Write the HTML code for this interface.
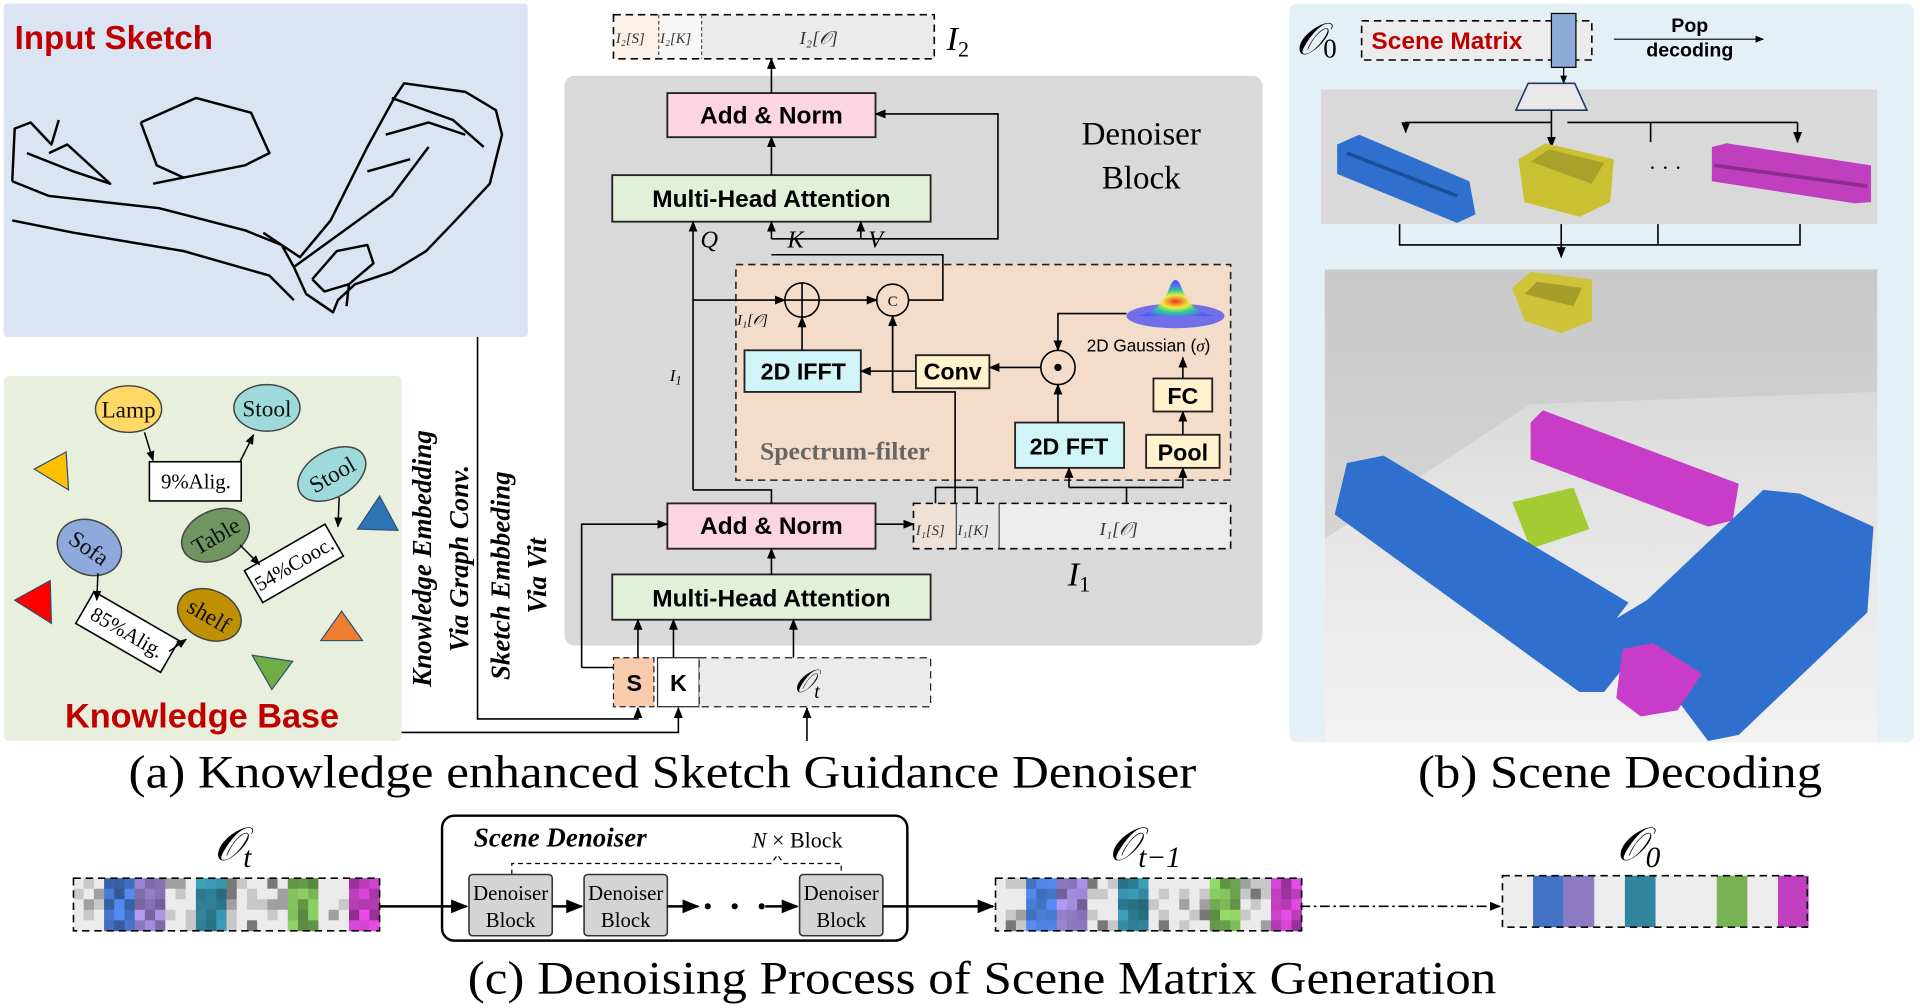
<!DOCTYPE html>
<html><head><meta charset="utf-8"><style>
html,body{margin:0;padding:0;background:#fff;}
svg{display:block}
.ser{font-family:"Liberation Serif",serif}
.san{font-family:"Liberation Sans",sans-serif}
</style></head><body>
<svg id="s" width="1920" height="1008" viewBox="0 0 1568 823" preserveAspectRatio="none" xmlns="http://www.w3.org/2000/svg">
<defs>
<marker id="a" viewBox="0 0 10 10" refX="9" refY="5" markerWidth="7" markerHeight="7" orient="auto-start-reverse"><path d="M0,1 L10,5 L0,9 z" fill="#000"/></marker>
<linearGradient id="floor" x1="0" y1="0" x2="0" y2="1"><stop offset="0" stop-color="#cdcdcd"/><stop offset="0.5" stop-color="#e4e4e4"/><stop offset="1" stop-color="#f2f2f2"/></linearGradient>
<radialGradient id="gau" cx="0.5" cy="0.6" r="0.5"><stop offset="0" stop-color="#e33"/><stop offset="0.35" stop-color="#ee3"/><stop offset="0.6" stop-color="#3c9"/><stop offset="1" stop-color="#55f"/></radialGradient>
</defs>
<rect x="3" y="3" width="428" height="272" fill="#dae4f2" rx="3"/>
<rect x="3" y="307" width="325" height="298" fill="#e8efdd" rx="4"/>
<rect x="461" y="62" width="570" height="465" fill="#d9d9d9" rx="8"/>
<rect x="1053" y="3" width="510" height="603" fill="#e3f0f6" rx="6"/>
<text x="12" y="40" class="san" font-weight="bold" font-size="27" fill="#c00000">Input Sketch</text>
<g fill="none" stroke="#000" stroke-width="2" stroke-linejoin="round">
<path d="M10,148 L12,105 L25,100 L42,118 L48,98 M10,148 L40,160 L130,170 L200,188 L230,200 L240,218 L250,240 L272,255 L276,245 L290,232 L320,222 L348,205 L372,180 L400,150 L410,110 L405,90 L380,75 L330,68 L322,80 L300,120 L270,180 L245,210 L215,190 M10,180 L60,190 L150,205 L220,225 L240,245 M22,125 L60,140 L90,150 L55,118 L40,125 M115,100 L160,80 L205,92 L220,125 L200,135 L150,145 L128,135 L115,100 M150,145 L125,150 M320,80 L370,98 L395,120 M315,110 L350,100 L380,110 M300,140 L335,130 M255,228 L275,205 L300,200 L305,215 L285,232 L265,238 L255,228 M285,232 L283,250 M240,218 L320,160 L350,120"/>
</g>
<g stroke="#444" stroke-width="1.2">
<ellipse cx="105" cy="334" rx="27" ry="19" fill="#ffd966"/>
<ellipse cx="218" cy="333" rx="27" ry="19" fill="#9fdada"/>
<ellipse cx="271" cy="387" rx="30" ry="19" fill="#9fdada" transform="rotate(-30 271 387)"/>
<ellipse cx="73" cy="447" rx="27" ry="22" fill="#8ea9db" transform="rotate(25 73 447)"/>
<ellipse cx="176" cy="437" rx="29" ry="20" fill="#6f9560" transform="rotate(-25 176 437)"/>
<ellipse cx="171" cy="502" rx="27" ry="20" fill="#bf9000" transform="rotate(25 171 502)"/>
</g>
<g class="ser" font-size="19" fill="#111" text-anchor="middle">
<text x="105" y="341">Lamp</text><text x="218" y="340">Stool</text>
<text x="271" y="394" transform="rotate(-30 271 387)">Stool</text>
<text x="73" y="454" transform="rotate(35 73 447)">Sofa</text>
<text x="176" y="444" transform="rotate(-30 176 437)">Table</text>
<text x="171" y="509" transform="rotate(30 171 502)">shelf</text>
</g>
<g stroke="#000" stroke-width="1.3" fill="#fff">
<rect x="122" y="377" width="75" height="32"/>
<rect x="-38" y="-15" width="76" height="30" transform="translate(240 460) rotate(-30)"/>
<rect x="-40" y="-15" width="80" height="30" transform="translate(104 516) rotate(30)"/>
</g>
<g class="ser" font-size="17" fill="#000" text-anchor="middle">
<text x="160" y="399">9%Alig.</text>
<text x="240" y="466" transform="rotate(-30 240 460)">54%Cooc.</text>
<text x="104" y="522" transform="rotate(30 104 516)">85%Alig.</text>
</g>
<g stroke="#000" stroke-width="1.2" fill="none" marker-end="url(#a)">
<path d="M118,353 L125,376"/><path d="M196,377 L207,355"/><path d="M277,406 L276,430"/><path d="M196,445 L212,461"/><path d="M80,468 L79,490"/><path d="M138,532 L152,522"/>
</g>
<polygon points="28,383 54,369 56,400" fill="#ffc000" stroke="#2f4f6f"/>
<polygon points="292,432 310,405 325,433" fill="#2e75b6" stroke="#2f4f6f"/>
<polygon points="12,490 41,474 42,509" fill="#f00" stroke="#2f4f6f"/>
<polygon points="262,523 279,499 296,523" fill="#ed7d31" stroke="#2f4f6f"/>
<polygon points="206,535 239,540 222,563" fill="#70ad47" stroke="#2f4f6f"/>
<text x="165" y="594" class="san" font-weight="bold" font-size="28" fill="#c00000" text-anchor="middle">Knowledge Base</text>
<g class="ser" font-weight="bold" font-style="italic" font-size="22" fill="#000" text-anchor="middle">
<text transform="translate(352 456) rotate(-90)">Knowledge Embedding</text>
<text transform="translate(382 456) rotate(-90)">Via Graph Conv.</text>
<text transform="translate(416 470) rotate(-90)">Sketch Embbeding</text>
<text transform="translate(446 470) rotate(-90)">Via Vit</text>
</g>
<g stroke="#000" stroke-width="1.3" fill="none">
<path d="M390,275 L390,587 L521,587 L521,578" marker-end="url(#a)"/>
<path d="M328,598 L554,598 L554,578" marker-end="url(#a)"/>
<path d="M659,605 L659,578" marker-end="url(#a)"/>
</g>
<rect x="501" y="12" width="37" height="36" fill="#fdf0e6"/>
<rect x="538" y="12" width="35" height="36" fill="#f6f6f6"/>
<rect x="573" y="12" width="190" height="36" fill="#ebebeb"/>
<rect x="501" y="12" width="262" height="36" fill="none" stroke="#000" stroke-width="1.3" stroke-dasharray="6,4"/>
<path d="M538,12 V48 M573,12 V48" stroke="#555" stroke-dasharray="3,2"/>
<g class="ser" font-style="italic" font-size="12" fill="#333"><text x="503" y="35">I₂[S]</text><text x="539" y="35">I₂[K]</text><text x="653" y="36" font-size="15">I₂[𝒪]</text></g>
<text x="773" y="41" class="ser" font-style="italic" font-size="28">I<tspan font-size="18" dy="5" font-style="normal">2</tspan></text>
<text x="932" y="118" class="ser" font-size="27" text-anchor="middle">Denoiser</text>
<text x="932" y="154" class="ser" font-size="27" text-anchor="middle">Block</text>
<g stroke="#222" stroke-width="1.5">
<rect x="545" y="76" width="170" height="36" fill="#fbd5e1"/>
<rect x="500" y="143" width="260" height="38" fill="#e2efd9"/>
<rect x="545" y="411" width="170" height="37" fill="#fbd5e1"/>
<rect x="500" y="469" width="260" height="37" fill="#e2efd9"/>
</g>
<g class="san" font-weight="bold" font-size="20" text-anchor="middle">
<text x="630" y="101">Add &amp; Norm</text><text x="630" y="169">Multi-Head Attention</text>
<text x="630" y="436">Add &amp; Norm</text><text x="630" y="495">Multi-Head Attention</text>
</g>
<g class="ser" font-style="italic" font-size="20"><text x="572" y="202">Q</text><text x="643" y="202">K</text><text x="709" y="202">V</text><text x="547" y="311" font-size="14">I<tspan font-size="10" dy="3">1</tspan></text></g>
<rect x="601" y="216" width="404" height="176" fill="#f4dccb" stroke="#222" stroke-width="1.3" stroke-dasharray="6,4"/>
<g stroke="#222" stroke-width="1.5">
<rect x="608" y="286" width="95" height="34" fill="#d0f4f8"/>
<rect x="748" y="290" width="60" height="27" fill="#fff2cc"/>
<rect x="942" y="309" width="48" height="27" fill="#fff2cc"/>
<rect x="936" y="355" width="60" height="27" fill="#fff2cc"/>
<rect x="829" y="345" width="89" height="37" fill="#d0f4f8"/>
</g>
<g class="san" font-weight="bold" font-size="19" text-anchor="middle">
<text x="656" y="310">2D IFFT</text><text x="778" y="310">Conv</text><text x="966" y="330">FC</text><text x="966" y="376">Pool</text><text x="873" y="371">2D FFT</text>
</g>
<text x="690" y="375" class="ser" font-weight="bold" font-size="21" fill="#666" text-anchor="middle">Spectrum-filter</text>
<text x="938" y="287" class="san" font-size="14" text-anchor="middle">2D Gaussian (<tspan class="ser" font-style="italic">σ</tspan>)</text>
<ellipse cx="960" cy="258" rx="40" ry="10" fill="#5b5bef" opacity="0.85"/>
<path d="M928,258 Q948,255 955,235 Q960,222 965,235 Q972,255 992,258 Z" fill="url(#gau)"/>
<g fill="none" stroke="#000" stroke-width="1.3">
<circle cx="655" cy="245" r="14" fill="#f4dccb"/><path d="M641,245 H669 M655,231 V259"/>
<circle cx="729" cy="245" r="13" fill="#f4dccb"/>
<circle cx="864" cy="300" r="14" fill="#f4dccb"/>
</g>
<text x="729" y="250" class="ser" font-size="12" text-anchor="middle">C</text>
<circle cx="864" cy="300" r="3" fill="#000"/>
<g stroke="#000" stroke-width="1.3" fill="none">
<path d="M630,143 V112" marker-end="url(#a)"/>
<path d="M630,76 V48" marker-end="url(#a)"/>
<path d="M630,469 V448" marker-end="url(#a)"/>
<path d="M630,195 H815 V93 H715" marker-end="url(#a)"/>
<path d="M630,195 V181" marker-end="url(#a)"/>
<path d="M703,195 V181" marker-end="url(#a)"/>
<path d="M566,400 V181" marker-end="url(#a)"/>
<path d="M566,400 H630 V411"/>
<path d="M566,245 H641" marker-end="url(#a)"/>
<path d="M669,245 H716" marker-end="url(#a)"/>
<path d="M742,245 H770 V208 H630"/>
<path d="M655,286 V259" marker-end="url(#a)"/>
<path d="M748,303 H703" marker-end="url(#a)"/>
<path d="M850,300 H808" marker-end="url(#a)"/>
<path d="M864,345 V314" marker-end="url(#a)"/>
<path d="M920,256 H864 V286" marker-end="url(#a)"/>
<path d="M966,309 V292" marker-end="url(#a)"/>
<path d="M966,355 V336" marker-end="url(#a)"/>
<path d="M873,398 V382" marker-end="url(#a)"/>
<path d="M873,398 H966 V382" marker-end="url(#a)"/>
<path d="M920,411 V398"/>
<path d="M780,411 V398 H764 V411 M780,398 H798 V411 M780,398 V320 H729 V258" />
<path d="M729,320 V258" marker-end="url(#a)"/>
<path d="M475,545 V428 H545" marker-end="url(#a)"/>
<path d="M475,545 H501"/>
<path d="M521,537 V506" marker-end="url(#a)"/>
<path d="M550,537 V506" marker-end="url(#a)"/>
<path d="M648,537 V506" marker-end="url(#a)"/>
<path d="M715,428 H746" marker-end="url(#a)"/>
</g>
<rect x="746" y="411" width="35" height="37" fill="#f1e2d7"/>
<rect x="781" y="411" width="35" height="37" fill="#e6e6e6"/>
<rect x="816" y="411" width="189" height="37" fill="#ececec"/>
<rect x="746" y="411" width="259" height="37" fill="none" stroke="#000" stroke-width="1.3" stroke-dasharray="6,4"/>
<path d="M781,411 V448 M816,411 V448" stroke="#444"/>
<g class="ser" font-style="italic" font-size="12" fill="#333"><text x="748" y="437">I₁[S]</text><text x="782" y="437">I₁[K]</text><text x="898" y="437" font-size="15">I₁[𝒪]</text></g>
<text x="602" y="265" class="ser" font-style="italic" font-size="12">I₁[𝒪]</text>
<text x="872" y="478" class="ser" font-style="italic" font-size="28">I<tspan font-size="18" dy="5" font-style="normal">1</tspan></text>
<rect x="501" y="537" width="33" height="40" fill="#f9cbad" stroke="#222" stroke-dasharray="5,3"/>
<rect x="537" y="537" width="34" height="40" fill="#fff" stroke="#222"/>
<rect x="571" y="537" width="189" height="40" fill="#ebebeb" stroke="#222" stroke-dasharray="6,4"/>
<g class="san" font-weight="bold" font-size="19" text-anchor="middle"><text x="518" y="564">S</text><text x="554" y="564">K</text></g>
<text x="659" y="565" class="ser" font-style="italic" font-size="26" text-anchor="middle">𝒪<tspan font-size="16" dy="5">t</tspan></text>
<text x="1058" y="44" class="ser" font-style="italic" font-size="36">𝒪<tspan font-size="22" dy="3" font-style="normal">0</tspan></text>
<rect x="1112" y="17" width="188" height="32" fill="#ececec" stroke="#000" stroke-width="1.3" stroke-dasharray="6,4"/>
<text x="1120" y="40" class="san" font-weight="bold" font-size="20" fill="#c00000">Scene Matrix</text>
<rect x="1267" y="11" width="20" height="44" fill="#8eaad6" stroke="#000"/>
<text x="1380" y="26" class="san" font-weight="bold" font-size="16" text-anchor="middle">Pop</text>
<text x="1380" y="46" class="san" font-weight="bold" font-size="16" text-anchor="middle">decoding</text>
<path d="M1318,32 H1440" stroke="#000" marker-end="url(#a)"/>
<rect x="1079" y="73" width="454" height="110" fill="#d9d9d9"/>
<path d="M1277,55 V68" stroke="#000" marker-end="url(#a)"/>
<polygon points="1248,68 1286,68 1296,90 1238,90" fill="#e8e8e8" stroke="#1f3864" stroke-width="1.3"/>
<g stroke="#000" stroke-width="1.3" fill="none">
<path d="M1267,90 V100 H1148 V108" marker-end="url(#a)"/>
<path d="M1267,100 V120" marker-end="url(#a)"/>
<path d="M1280,100 H1468" />
<path d="M1348,100 V116 M1468,100 V116" marker-end="url(#a)"/>
<path d="M1143,183 V200 H1470 V183 M1275,183 V200 M1354,183 V200" />
<path d="M1275,200 V210" marker-end="url(#a)"/>
</g>
<path d="M1092,118 L1110,110 L1200,148 L1205,175 L1190,182 L1092,142 Z" fill="#2f6fce"/>
<path d="M1100,125 L1190,160" stroke="#1c4f9a" stroke-width="3"/>
<path d="M1240,130 L1262,117 L1318,130 L1315,165 L1290,177 L1245,165 Z" fill="#c9c032"/>
<path d="M1250,132 L1265,122 L1310,133 L1300,150 Z" fill="#a9a12a"/>
<text x="1360" y="143" font-size="18" text-anchor="middle">· · ·</text>
<path d="M1398,120 L1410,117 L1528,135 L1528,165 L1515,166 L1398,148 Z" fill="#c03fbf"/>
<path d="M1400,135 L1525,152" stroke="#8d2a8d" stroke-width="3"/>
<rect x="1082" y="220" width="451" height="386" fill="url(#floor)"/>
<path d="M1082,220 H1533 V320 L1250,330 L1082,440 Z" fill="#c4c4c4" opacity="0.5"/>
<path d="M1235,235 L1250,222 L1300,228 L1300,262 L1275,272 L1245,262 Z" fill="#cfc33a"/>
<path d="M1245,240 L1255,230 L1292,235 L1285,250 Z" fill="#a79d2a"/>
<path d="M1250,345 L1260,335 L1420,395 L1415,425 L1395,430 L1250,375 Z" fill="#c83dc8"/>
<path d="M1235,410 L1285,398 L1298,432 L1250,448 Z" fill="#a3cc33"/>
<path d="M1090,420 L1100,378 L1130,372 L1330,492 L1320,505 L1345,490 L1440,400 L1470,403 L1530,430 L1525,500 L1420,600 L1395,605 L1350,545 L1330,540 L1310,565 L1290,565 Z" fill="#2f6fce"/>
<path d="M1325,530 L1350,525 L1390,550 L1370,580 L1340,585 L1320,570 Z" fill="#c73cc8"/>
<g class="ser" font-size="38" text-anchor="middle" lengthAdjust="spacingAndGlyphs">
<text x="541" y="643" textLength="872" lengthAdjust="spacingAndGlyphs">(a) Knowledge enhanced Sketch Guidance Denoiser</text>
<text x="1323" y="643" textLength="330" lengthAdjust="spacingAndGlyphs">(b) Scene Decoding</text>
<text x="802" y="811" textLength="840" lengthAdjust="spacingAndGlyphs">(c) Denoising Process of Scene Matrix Generation</text>
</g>
<text x="190" y="702" class="ser" font-style="italic" font-size="38" text-anchor="middle">𝒪<tspan font-size="24" dy="6">t</tspan></text>
<text x="935" y="702" class="ser" font-style="italic" font-size="38" text-anchor="middle">𝒪<tspan font-size="24" dy="6">t−1</tspan></text>
<text x="1338" y="702" class="ser" font-style="italic" font-size="38" text-anchor="middle">𝒪<tspan font-size="24" dy="6">0</tspan></text>
<g id="strips"></g>
<rect x="361" y="666" width="380" height="102" rx="10" fill="#fff" stroke="#000" stroke-width="2"/>
<text x="387" y="691" class="ser" font-weight="bold" font-style="italic" font-size="22">Scene Denoiser</text>
<text x="614" y="692" class="ser" font-size="18"><tspan font-style="italic">N</tspan> × Block</text>
<path d="M418,714 V705 H630 L635,698 L640,705 H687 V714" fill="none" stroke="#000" stroke-dasharray="4,3"/>
<g stroke="#333" stroke-width="1.3" fill="#d4d4d4">
<rect x="383" y="714" width="68" height="50" rx="3"/><rect x="477" y="714" width="68" height="50" rx="3"/><rect x="653" y="714" width="68" height="50" rx="3"/>
</g>
<g class="ser" font-size="17" text-anchor="middle">
<text x="417" y="735">Denoiser</text><text x="417" y="757">Block</text>
<text x="511" y="735">Denoiser</text><text x="511" y="757">Block</text>
<text x="687" y="735">Denoiser</text><text x="687" y="757">Block</text>
</g>
<g stroke="#000" stroke-width="2" fill="none">
<path d="M310,740 H381" marker-end="url(#a)"/>
<path d="M451,740 H475" marker-end="url(#a)"/>
<path d="M545,740 H570" marker-end="url(#a)"/>
<path d="M625,740 H651" marker-end="url(#a)"/>
<path d="M721,740 H811" marker-end="url(#a)"/>
<path d="M1062,740 H1225" stroke-width="1.3" stroke-dasharray="8,3,2,3" marker-end="url(#a)"/>
</g>
<g fill="#000"><circle cx="578" cy="740" r="2.5"/><circle cx="600" cy="740" r="2.5"/><circle cx="622" cy="740" r="2.5"/></g>
</svg>
<script>
(function(){
var g=document.getElementById('strips');var ns='http://www.w3.org/2000/svg';
var cols=[null,[68,114,196],[142,124,195],null,[49,133,156],null,null,[119,178,85],null,[192,63,191]];
function r(x,y,w,h,f,extra){var e=document.createElementNS(ns,'rect');e.setAttribute('x',x);e.setAttribute('y',y);e.setAttribute('width',w);e.setAttribute('height',h);e.setAttribute('fill',f);if(extra)for(var k in extra)e.setAttribute(k,extra[k]);g.appendChild(e);}
var seed=7;function rnd(){seed=(seed*9301+49297)%233280;return seed/233280;}
function noisy(x0,y0){var cw=25,h=43,ch=h/5,sw=cw/3;
for(var c=0;c<10;c++)for(var i=0;i<3;i++)for(var j=0;j<5;j++){var t=rnd();var col;
if(cols[c]){var b=cols[c];var k=0.75+t*0.5;col='rgb('+Math.min(255,b[0]*k|0)+','+Math.min(255,b[1]*k|0)+','+Math.min(255,b[2]*k|0)+')';}
else{var v=(t<0.5?235:t<0.75?200:t<0.9?160:120)|0;col='rgb('+v+','+v+','+v+')';}
r(x0+c*cw+i*sw,y0+j*ch,sw+0.3,ch+0.3,col);}
r(x0,y0,250,h,'none',{stroke:'#000','stroke-width':1.3,'stroke-dasharray':'6,4'});}
noisy(60,717);noisy(813,717);
r(1227,715,249,42,'#ececec');
for(var c=0;c<10;c++)if(cols[c]){var b=cols[c];r(1227+c*25,715,25,42,'rgb('+b+')');}
r(1227,715,249,42,'none',{stroke:'#000','stroke-width':1.3,'stroke-dasharray':'6,4'});
})();
</script>
</body></html>
